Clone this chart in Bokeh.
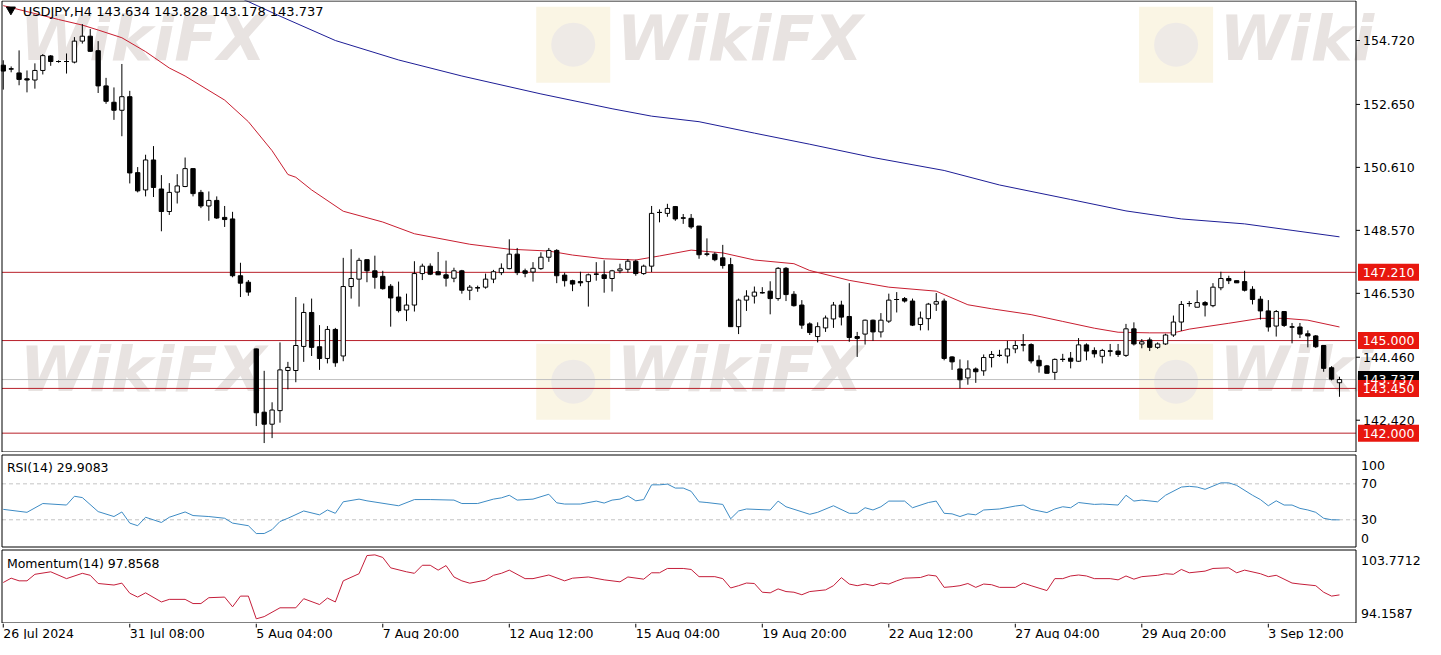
import numpy as np
from bokeh.plotting import figure
from bokeh.models import Range1d
from bokeh.layouts import column
from bokeh.core.properties import value
from bokeh.embed import file_html
from bokeh.resources import INLINE

FONT = "DejaVu Sans"

# ---------------- data ----------------
opens = [153.92, 153.80, 153.67, 153.48, 153.44, 153.75, 154.22, 154.04, 154.04, 154.02,
         154.70, 154.86, 154.39, 153.25, 152.72, 152.46, 152.90, 150.44, 149.88, 150.85,
         149.91, 149.18, 149.81, 149.99, 150.57, 149.80, 149.36, 149.54, 148.99, 148.94,
         147.10, 146.89, 144.73, 142.68, 142.29, 142.73, 144.03, 144.03, 144.81, 145.91,
         144.80, 144.42, 145.36, 144.50, 146.75, 146.99, 147.62, 147.26, 147.08, 146.76,
         146.41, 145.99, 146.15, 147.17, 147.41, 147.23, 147.13, 147.02, 147.26, 146.63,
         146.71, 146.73, 146.99, 147.20, 147.33, 147.80, 147.26, 147.22, 147.33, 147.70,
         147.92, 147.12, 146.94, 146.91, 146.91, 147.15, 147.13, 147.01, 147.26, 147.31,
         147.57, 147.17, 147.41, 149.15, 149.12, 149.34, 148.97, 148.96, 148.71, 147.80,
         147.80, 147.68, 147.46, 145.45, 146.31, 146.44, 146.55, 146.60, 146.36, 147.34,
         146.50, 146.15, 145.54, 145.13, 145.41, 145.70, 146.15, 145.78, 145.13, 145.21,
         145.66, 145.28, 145.63, 146.33, 146.36, 146.28, 145.52, 145.71, 146.18, 146.28,
         144.47, 144.08, 143.79, 144.08, 144.02, 144.45, 144.52, 144.50, 144.73, 144.86,
         144.87, 144.36, 144.18, 143.97, 144.39, 144.43, 144.33, 144.86, 144.68, 144.49,
         144.66, 144.66, 144.52, 145.38, 144.89, 145.02, 144.78, 144.89, 145.18, 145.60,
         146.20, 146.08, 146.23, 146.13, 146.71, 147.01, 146.94, 146.91, 146.66, 146.34,
         145.96, 145.47, 145.94, 145.44, 145.44, 145.22, 145.15, 144.84, 144.12, 143.634]
highs = [154.08, 153.88, 154.40, 153.75, 153.98, 154.28, 154.25, 154.08, 154.30, 154.83,
         155.25, 155.09, 154.70, 153.51, 153.20, 153.96, 153.09, 150.62, 151.02, 151.30,
         150.36, 150.10, 150.39, 150.93, 150.58, 149.88, 149.83, 149.67, 149.36, 149.17,
         147.52, 146.96, 144.74, 144.02, 143.00, 144.94, 144.31, 146.41, 146.20, 146.36,
         145.50, 145.47, 145.41, 147.68, 147.96, 147.68, 147.62, 147.75, 147.26, 146.83,
         146.91, 146.52, 147.57, 147.49, 147.50, 147.87, 147.59, 147.36, 147.29, 146.80,
         146.78, 147.17, 147.29, 147.50, 148.28, 148.00, 147.33, 147.54, 147.86, 148.00,
         147.96, 147.20, 146.97, 147.23, 147.17, 147.54, 147.60, 147.29, 147.49, 147.64,
         147.62, 147.46, 149.36, 149.25, 149.43, 149.36, 149.10, 149.10, 148.71, 148.31,
         147.86, 148.10, 147.68, 146.36, 146.63, 146.75, 146.73, 146.92, 147.38, 147.38,
         146.60, 146.31, 145.59, 145.59, 145.81, 146.25, 146.29, 146.86, 145.28, 145.68,
         145.68, 145.89, 146.52, 146.57, 146.41, 146.36, 145.94, 146.22, 146.54, 146.36,
         144.49, 144.39, 144.36, 144.13, 144.55, 144.66, 144.70, 144.99, 144.99, 145.21,
         144.91, 144.52, 144.21, 144.42, 144.57, 144.63, 145.08, 144.91, 144.78, 144.73,
         144.89, 144.89, 145.54, 145.59, 145.05, 145.10, 144.94, 145.22, 145.81, 146.28,
         146.28, 146.63, 146.28, 146.86, 147.23, 147.10, 146.94, 147.26, 146.76, 146.44,
         146.31, 145.99, 145.94, 145.57, 145.57, 145.33, 145.18, 144.84, 144.17, 143.828]
lows = [153.13, 153.69, 153.27, 153.04, 153.16, 153.62, 153.90, 154.00, 153.65, 153.98,
        154.62, 154.35, 153.02, 152.67, 152.15, 151.62, 150.09, 149.80, 149.67, 149.65,
        148.54, 149.07, 149.44, 149.97, 149.67, 149.29, 148.88, 148.94, 148.68, 147.05,
        146.41, 146.45, 142.23, 141.68, 141.84, 142.34, 143.42, 143.65, 144.31, 144.50,
        144.05, 144.26, 144.15, 144.33, 146.36, 146.10, 146.89, 146.68, 146.65, 145.45,
        145.91, 145.63, 145.94, 146.96, 147.12, 147.12, 146.75, 146.89, 146.52, 146.31,
        146.58, 146.68, 146.86, 147.12, 147.31, 147.12, 147.05, 146.91, 147.29, 147.55,
        146.86, 146.75, 146.60, 146.76, 146.10, 146.94, 146.55, 146.59, 147.18, 147.20,
        147.10, 147.13, 147.22, 148.83, 149.01, 148.88, 148.78, 148.62, 147.65, 147.73,
        147.57, 147.33, 145.44, 145.21, 145.96, 146.20, 146.52, 145.85, 146.29, 146.28,
        146.10, 145.38, 145.18, 144.94, 145.28, 145.41, 145.49, 144.96, 144.47, 144.87,
        144.99, 145.10, 145.57, 145.91, 146.23, 145.47, 145.33, 145.33, 145.96, 144.36,
        144.05, 143.45, 143.57, 143.63, 143.86, 144.13, 144.47, 144.26, 144.59, 144.65,
        144.26, 143.96, 143.94, 143.73, 144.31, 144.10, 144.31, 144.36, 144.45, 144.26,
        144.49, 144.47, 144.47, 144.84, 144.75, 144.66, 144.73, 144.86, 145.12, 145.31,
        146.10, 146.08, 145.78, 146.08, 146.63, 146.83, 146.87, 146.59, 146.17, 145.68,
        145.29, 145.13, 145.44, 144.91, 145.08, 144.78, 144.76, 143.99, 143.71, 143.178]
closes = [153.73, 153.80, 153.46, 153.44, 153.75, 154.23, 154.04, 154.04, 154.04, 154.70,
          154.86, 154.37, 153.25, 152.75, 152.46, 152.90, 150.43, 149.85, 150.85, 149.96,
          149.18, 149.80, 150.01, 150.57, 149.76, 149.36, 149.54, 148.97, 148.92, 147.10,
          146.86, 146.57, 142.66, 142.29, 142.75, 144.05, 144.13, 144.84, 145.91, 144.78,
          144.42, 145.36, 144.28, 146.75, 147.01, 147.60, 147.26, 147.05, 146.68, 146.38,
          145.97, 146.15, 147.17, 147.41, 147.15, 147.13, 147.02, 147.26, 146.63, 146.73,
          146.71, 146.99, 147.23, 147.34, 147.80, 147.20, 147.18, 147.34, 147.70, 147.92,
          147.10, 146.94, 146.83, 146.87, 147.13, 147.15, 147.01, 147.26, 147.32, 147.57,
          147.17, 147.41, 149.12, 149.15, 149.28, 148.94, 148.97, 148.68, 147.78, 147.80,
          147.62, 147.43, 145.45, 146.31, 146.44, 146.57, 146.55, 146.36, 147.34, 146.49,
          146.13, 145.50, 145.26, 145.45, 145.73, 146.15, 145.76, 145.10, 145.07, 145.66,
          145.28, 145.66, 146.31, 146.33, 146.28, 145.50, 145.73, 146.18, 146.26, 144.42,
          144.31, 143.73, 144.08, 143.99, 144.45, 144.55, 144.52, 144.73, 144.84, 144.86,
          144.34, 144.18, 143.94, 144.39, 144.39, 144.33, 144.86, 144.66, 144.57, 144.68,
          144.66, 144.55, 145.38, 144.89, 144.96, 144.78, 144.89, 145.18, 145.60, 146.17,
          146.20, 146.23, 146.15, 146.73, 147.01, 146.94, 146.87, 146.63, 146.33, 145.96,
          145.44, 145.94, 145.49, 145.44, 145.21, 145.15, 144.80, 144.10, 143.75, 143.737]

ma_red_idx = [0, 7, 10, 12, 15, 18, 21, 23, 28, 31, 34, 36, 37, 39, 43, 48, 52, 59, 64, 69,
              72, 76, 80, 83, 87, 91, 95, 100, 102, 107, 112, 118, 122, 125, 130, 134, 138,
              141, 145, 148, 150, 155, 159, 162, 165, 169]
ma_red_val = [155.85, 155.40, 155.22, 155.06, 154.81, 154.36, 153.83, 153.57, 152.79, 152.09,
              151.15, 150.38, 150.29, 149.88, 149.19, 148.84, 148.46, 148.12, 147.96, 147.90,
              147.77, 147.65, 147.61, 147.74, 147.93, 147.84, 147.61, 147.49, 147.27, 146.95,
              146.73, 146.60, 146.16, 146.03, 145.84, 145.62, 145.40, 145.27, 145.25, 145.25,
              145.37, 145.56, 145.72, 145.72, 145.66, 145.44]

ma_blue_idx = [29, 31, 35, 42, 50, 58, 68, 77, 82, 88, 95, 102, 110, 119, 126, 135, 142, 149,
               157, 163, 169]
ma_blue_val = [156.20, 155.98, 155.51, 154.72, 154.09, 153.57, 152.99, 152.51, 152.27, 152.09,
               151.72, 151.36, 150.93, 150.51, 150.04, 149.57, 149.20, 148.94, 148.78, 148.57,
               148.36]

rsi_idx = [0, 3, 5, 8, 9, 10, 12, 14, 15, 16, 17, 18, 20, 21, 23, 24, 26, 28, 29, 31,
           32, 33, 34, 35, 36, 38, 40, 41, 42, 43, 45, 46, 50, 52, 54, 57, 58, 60, 62, 63,
           64, 65, 67, 69, 70, 71, 73, 75, 76, 77, 78, 79, 80, 81, 82, 83, 84, 85, 86, 87,
           88, 89, 91, 92, 93, 94, 97, 98, 99, 102, 103, 105, 107, 108, 109, 110, 111, 112, 114, 115,
           117, 118, 119, 120, 121, 122, 123, 124, 126, 128, 129, 130, 132, 133, 134, 135, 136, 138, 139, 141,
           142, 143, 144, 146, 147, 149, 150, 151, 152, 154, 155, 156, 158, 159, 160, 161, 162, 163, 164, 165,
           166, 167, 168, 169]
rsi_val = [41.6, 38.3, 48.1, 46.4, 56.2, 54.7, 39.1, 33.6, 38.7, 26.3, 23.4, 32.8, 27.0, 32.8, 38.7, 34.7, 33.6, 31.7, 26.3, 23.4,
           14.7, 14.7, 19.1, 28.1, 31.7, 39.8, 35.5, 40.9, 37.2, 50.0, 53.0, 51.1, 45.6, 52.5, 52.5, 51.9, 48.1, 48.1, 53.0, 54.4,
           57.3, 51.9, 53.0, 58.4, 48.9, 47.5, 47.5, 50.8, 48.6, 51.9, 53.0, 56.6, 51.1, 52.5, 68.9, 68.9, 69.7, 65.3, 65.3, 61.7,
           50.0, 49.2, 47.1, 31.1, 39.8, 42.0, 40.9, 50.8, 44.5, 36.1, 38.3, 45.6, 37.2, 37.2, 43.4, 40.9, 44.5, 50.8, 50.8, 43.4,
           49.2, 50.8, 37.2, 36.6, 33.6, 36.6, 35.5, 40.9, 42.0, 45.3, 46.4, 41.6, 38.0, 42.0, 44.5, 43.4, 49.2, 47.1, 47.5, 46.4,
           57.3, 50.8, 51.9, 50.0, 57.3, 66.4, 67.2, 66.4, 63.9, 71.1, 71.1, 68.3, 57.3, 52.5, 45.6, 51.1, 46.4, 46.4, 42.7, 40.9,
           38.3, 31.7, 30.0, 29.9083]

mom_idx = [0, 1, 2, 3, 4, 6, 8, 10, 11, 12, 14, 15, 16, 17, 18, 20, 21, 23, 24, 25,
           26, 28, 29, 30, 31, 32, 33, 35, 37, 38, 40, 41, 42, 43, 45, 46, 47, 48, 49, 51,
           52, 53, 54, 55, 56, 57, 58, 59, 61, 62, 63, 64, 66, 67, 69, 71, 72, 74, 76, 78,
           79, 81, 82, 83, 84, 86, 87, 88, 90, 91, 92, 93, 94, 95, 96, 97, 98, 99, 100, 101,
           102, 104, 105, 106, 107, 108, 109, 110, 111, 112, 113, 114, 116, 117, 118, 119, 120, 121, 122, 123,
           124, 125, 126, 128, 129, 130, 132, 133, 134, 135, 136, 137, 138, 140, 141, 142, 143, 144, 146, 147,
           148, 149, 150, 152, 153, 155, 156, 157, 159, 160, 161, 163, 164, 166, 167, 168, 169]
mom_val = [99.49, 100.06, 99.71, 99.71, 100.57, 100.90, 100.00, 100.70, 100.44, 99.36, 99.16, 99.41, 98.08, 97.57, 98.13, 96.93, 97.27, 97.27, 96.72, 96.72,
           97.49, 97.57, 96.29, 97.70, 97.70, 94.71, 95.00, 96.16, 96.16, 97.36, 96.59, 97.44, 96.93, 99.71, 100.65, 103.04, 103.13, 102.79, 101.42, 100.90,
           100.70, 101.76, 101.76, 101.12, 101.72, 100.22, 99.71, 99.40, 99.80, 100.44, 100.70, 101.12, 100.00, 100.00, 100.48, 99.71, 100.06, 100.22, 99.84, 99.58,
           100.22, 99.93, 100.77, 100.77, 101.34, 101.34, 101.21, 100.26, 100.26, 100.00, 98.77, 99.07, 99.42, 99.36, 98.21, 98.13, 98.65, 98.30, 98.21, 97.88,
           98.30, 98.52, 99.07, 100.13, 99.29, 99.07, 99.29, 99.07, 99.42, 99.29, 99.71, 100.06, 100.15, 100.48, 100.35, 98.85, 98.94, 99.07, 99.36, 98.85,
           99.29, 99.20, 98.85, 98.85, 99.42, 99.07, 98.43, 100.00, 100.00, 100.35, 100.48, 100.35, 100.00, 100.00, 99.84, 100.35, 99.93, 100.26, 100.44, 100.65,
           100.57, 101.21, 100.77, 100.99, 101.34, 101.42, 100.77, 101.12, 100.65, 100.26, 100.44, 99.42, 99.29, 99.07, 98.21, 97.70, 97.8568]

price_ticks = [154.72, 152.65, 150.61, 148.57, 146.53, 144.46, 142.42]
price_tick_txt = ["154.720", "152.650", "150.610", "148.570", "146.530", "144.460", "142.420"]
level_prices = [147.21, 145.00, 143.45, 142.00]
level_texts = ["147.210", "145.000", "143.450", "142.000"]
last_price = 143.737
last_text = "143.737"
title_text = "USDJPY,H4  143.634 143.828 143.178 143.737"
rsi_text = "RSI(14) 29.9083"
mom_text = "Momentum(14) 97.8568"
rsi_levels = [70, 30]
rsi_tick_pos = [90.1, 70, 30, 9.2]
rsi_tick_txt = ["100", "70", "30", "0"]
mom_tick_pos = [102.4, 95.35]
mom_tick_txt = ["103.7712", "94.1587"]
date_idx = [0, 16, 32, 48, 64, 80, 96, 112, 128, 144, 160]
date_txt = ["26 Jul 2024", "31 Jul 08:00", "5 Aug 04:00", "7 Aug 20:00", "12 Aug 12:00",
            "15 Aug 04:00", "19 Aug 20:00", "22 Aug 12:00", "27 Aug 04:00", "29 Aug 20:00",
            "3 Sep 12:00"]

# ---------------- geometry ----------------
W = 1422          # full frame width (chart + scale area)
CHART_L = 1.5     # px position of the chart's left border
CHART_W = 1354    # px between left and right borders
X0, X1 = -0.16, 171.09
k = CHART_W / (X1 - X0)
xr = Range1d(X0 - CHART_L / k, X1 + (W - CHART_L - CHART_W) / k)


def sx(dpx):
    """x position a number of pixels right of the chart's right border"""
    return X1 + dpx / k


def ix(px):
    """reference-pixel x -> bar units (decorations only)"""
    return (px - 5.3) / 8.0


def py(px):
    """reference-pixel y -> price (decorations only)"""
    return 154.72 - (px - 41.7) / 31.7


def panel(H, vb, vt, pt, pb):
    per = (vt - vb) / (pb - pt)
    yr = Range1d(vb - (H - pb) * per, vt + pt * per)
    f = figure(frame_width=W, frame_height=H, x_range=xr, y_range=yr,
               output_backend="svg", toolbar_location=None,
               x_axis_location=None, y_axis_location=None, min_border=0,
               outline_line_color=None, background_fill_color="white", border_fill_color="white")
    f.grid.visible = False
    return f


def borders(f, vb, vt):
    f.segment(x0=[X0, X1, X0, X0], y0=[vb, vb, vt, vb], x1=[X0, X1, X1, X1], y1=[vt, vt, vt, vb],
              line_color="black", line_width=1)


def scale_labels(f, ys, txts, dx, size="12.5px"):
    f.text(x=[sx(dx)] * len(ys), y=ys, text=txts, text_font=value(FONT), text_font_size=size,
           text_color="black", text_align="left", text_baseline="middle")


RED_LINE = "#b8202a"
BOX_RED = "#e8170f"

# ---------------- main price panel ----------------
PB, PT = 141.39, 156.0
p = panel(452, PB, PT, 0.5, 451.5)

# watermark
lg_x = [ix(582), ix(1192), ix(582), ix(1192)]
lg_y = [py(46), py(46), py(392), py(392)]
p.rect(x=lg_x, y=lg_y, width=74, height=76, width_units="screen", height_units="screen",
       fill_color="#faf5e4", line_color=None)
p.scatter(x=lg_x, y=lg_y, size=44, marker="circle", fill_color="#eeeae6", line_color=None)
wm_x = [ix(22), ix(626), ix(1236), ix(22), ix(626), ix(1236)]
wm_y = [py(40), py(40), py(40), py(380), py(380), py(380)]
wm_t = ["WikiFX", "WikiFX", "Wiki", "WikiFX", "WikiFX", "Wiki"]
p.text(x=wm_x, y=wm_y, text=wm_t, text_font=value(FONT), text_font_style="bold italic",
       text_font_size="63px", text_color="#e8e3e1", text_align="left", text_baseline="middle")

# horizontal levels and current price line
p.segment(x0=[X0], y0=[last_price], x1=[X1], y1=[last_price], line_color="#c0c0c0", line_width=1)
p.segment(x0=[X0] * len(level_prices), y0=level_prices, x1=[X1] * len(level_prices), y1=level_prices,
          line_color=RED_LINE, line_width=1)

# moving averages
p.line(ma_blue_idx, ma_blue_val, line_color="#1e1e96", line_width=1)
p.line(ma_red_idx, ma_red_val, line_color="#c81e30", line_width=1)

# candles
o = np.array(opens); h = np.array(highs); l = np.array(lows); c = np.array(closes)
idx = np.arange(len(o))
up = c >= o
dn = ~up
p.segment(x0=idx, y0=h, x1=idx, y1=l, line_color="black", line_width=1)
p.vbar(x=idx[up], top=c[up], bottom=o[up], width=0.55, fill_color="white", line_color="black", line_width=1)
p.vbar(x=idx[dn], top=o[dn], bottom=c[dn], width=0.55, fill_color="black", line_color="black", line_width=1)
doji = np.abs(c - o) < 0.02
p.segment(x0=idx[doji] - 0.3, y0=c[doji], x1=idx[doji] + 0.3, y1=c[doji], line_color="black", line_width=1)

# title
p.scatter(x=[ix(13)], y=[py(10)], marker="inverted_triangle", size=9, color="black")
p.text(x=[ix(25)], y=[py(12)], text=[title_text], text_font=value(FONT), text_font_size="13px",
       text_color="black", text_align="left", text_baseline="middle")

borders(p, PB, PT)

# price scale: ticks + labels
p.segment(x0=[X1] * len(price_ticks), y0=price_ticks, x1=[sx(4)] * len(price_ticks), y1=price_ticks,
          line_color="black", line_width=1)
scale_labels(p, price_ticks, price_tick_txt, 7)

# price boxes
bx = sx(2 + 30.5)
box_y = [last_price] + level_prices
box_t = [last_text] + level_texts
box_c = ["black"] + [BOX_RED] * len(level_prices)
p.rect(x=[bx] * len(box_y), y=box_y, width=61 / k, height=17, height_units="screen",
       fill_color=box_c, line_color=None)
p.text(x=[bx] * len(box_y), y=box_y, text=box_t, text_font=value(FONT), text_font_size="12.5px",
       text_color="white", text_align="center", text_baseline="middle")

# ---------------- RSI panel ----------------
RB, RT = -0.3, 102.1
r = panel(96, RB, RT, 2.5, 94.5)
r.segment(x0=[X0] * 2, y0=rsi_levels, x1=[X1] * 2, y1=rsi_levels, line_color="#c4c4c4",
          line_width=1, line_dash="4 3")
r.line(rsi_idx, rsi_val, line_color="#3d8bc4", line_width=1)
r.text(x=[ix(9)], y=[88.3], text=[rsi_text], text_font=value(FONT), text_font_size="12.5px",
       text_color="black", text_align="left", text_baseline="middle")
borders(r, RB, RT)
scale_labels(r, rsi_tick_pos, rsi_tick_txt, 5)

# ---------------- Momentum panel ----------------
MB, MT = 94.1587, 103.7712
m = panel(75, MB, MT, 1.5, 74.5)
m.line(mom_idx, mom_val, line_color="#c41e3a", line_width=1)
m.text(x=[ix(9)], y=[102.02], text=[mom_text], text_font=value(FONT), text_font_size="12.5px",
       text_color="black", text_align="left", text_baseline="middle")
borders(m, MB, MT)
scale_labels(m, mom_tick_pos, mom_tick_txt, 5)

# ---------------- time labels strip ----------------
s = figure(frame_width=W, frame_height=16, x_range=xr, y_range=Range1d(0, 16),
           output_backend="svg", toolbar_location=None, x_axis_location=None, y_axis_location=None,
           min_border=0, outline_line_color=None)
s.grid.visible = False
s.segment(x0=date_idx, y0=[16] * len(date_idx), x1=date_idx, y1=[12] * len(date_idx),
          line_color="black", line_width=1)
s.text(x=date_idx, y=[14] * len(date_idx), text=date_txt, text_font=value(FONT),
       text_font_size="12.5px", text_color="black", text_align="left", text_baseline="top")

layout = column(p, r, m, s, spacing=0)
open("out.html", "w").write(file_html(layout, INLINE))
